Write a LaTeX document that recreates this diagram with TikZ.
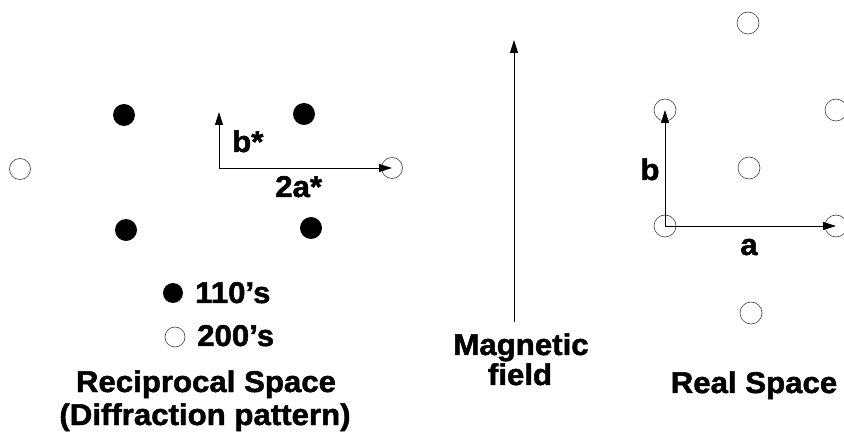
\documentclass[tikz,border=0pt]{standalone}
\usepackage{fontspec}
\setmainfont{Liberation Sans}[FakeStretch=1.04,BoldFeatures={FakeBold=1.6}]
\usetikzlibrary{arrows.meta}

\newcommand*{\lblsize}{\fontsize{30}{36}\selectfont}

\begin{document}
\begin{tikzpicture}
[
	x=1pt,y=-1pt,
	closedpt/.style={circle,fill,inner sep=0pt,minimum size=22pt},
	openpt/.style={circle,draw=black!75,line width=0.6pt,inner sep=0pt,minimum size=21pt},
	vec/.style={-{Triangle[length=13pt,width=8pt]},line width=0.9pt},
	lbl/.style={font=\bfseries\lblsize,inner sep=0pt,anchor=base}
]
	\useasboundingbox (0,0) rectangle (844,446);

	% reciprocal space
	\node[closedpt] (k1) at (124,115) {};
	\node[closedpt] (k2) at (304,114) {};
	\node[closedpt] (k3) at (126,230) {};
	\node[closedpt] (k4) at (311,228) {};
	\node[openpt] (k5) at (20,169) {};
	\node[openpt] (k6) at (392,168) {};

	\coordinate (korigin) at (219,168);
	\coordinate (bstar) at (219,112);
	\draw[vec] (korigin) -- (bstar);
	\draw[vec] (korigin) -- (k6.center);
	\node[lbl,anchor=base west] (bstarlbl) at (232,152) {b*};
	\node[lbl,anchor=base west] (astarlbl) at (275,197) {2a*};

	% legend
	\node[closedpt,minimum size=20pt] (leg1) at (173,293) {};
	\node[lbl,anchor=base west] (leg1lbl) at (195,303) {110's};
	\node[openpt,minimum size=20pt] (leg2) at (175,337) {};
	\node[lbl,anchor=base west] (leg2lbl) at (197,346) {200's};

	\node[lbl] (recip) at (206,392) {Reciprocal Space};
	\node[lbl] (diffr) at (205,425) {(Diffraction pattern)};

	% field
	\coordinate (fieldbot) at (514,322);
	\coordinate (fieldtop) at (514,40);
	\draw[vec] (fieldbot) -- (fieldtop);
	\node[lbl] (magn) at (521,355) {Magnetic};
	\node[lbl] (field) at (520,385) {field};

	% real space
	\node[openpt,minimum size=22pt] (r1) at (748,23) {};
	\node[openpt,minimum size=22pt] (r2) at (665,110) {};
	\node[openpt,minimum size=22pt] (r3) at (836,110) {};
	\node[openpt,minimum size=22pt] (r4) at (749,168) {};
	\node[openpt,minimum size=22pt] (r5) at (665,226) {};
	\node[openpt,minimum size=22pt] (r6) at (836,226) {};
	\node[openpt,minimum size=22pt] (r7) at (751,313) {};

	\draw[vec] (r5.center) -- (r2.center);
	\draw[vec] (r5.center) -- (r6.center);
	\node[lbl] (blbl) at (650,180) {b};
	\node[lbl] (albl) at (749,255) {a};

	\node[lbl] (real) at (754,393) {Real Space};

\end{tikzpicture}
\end{document}
